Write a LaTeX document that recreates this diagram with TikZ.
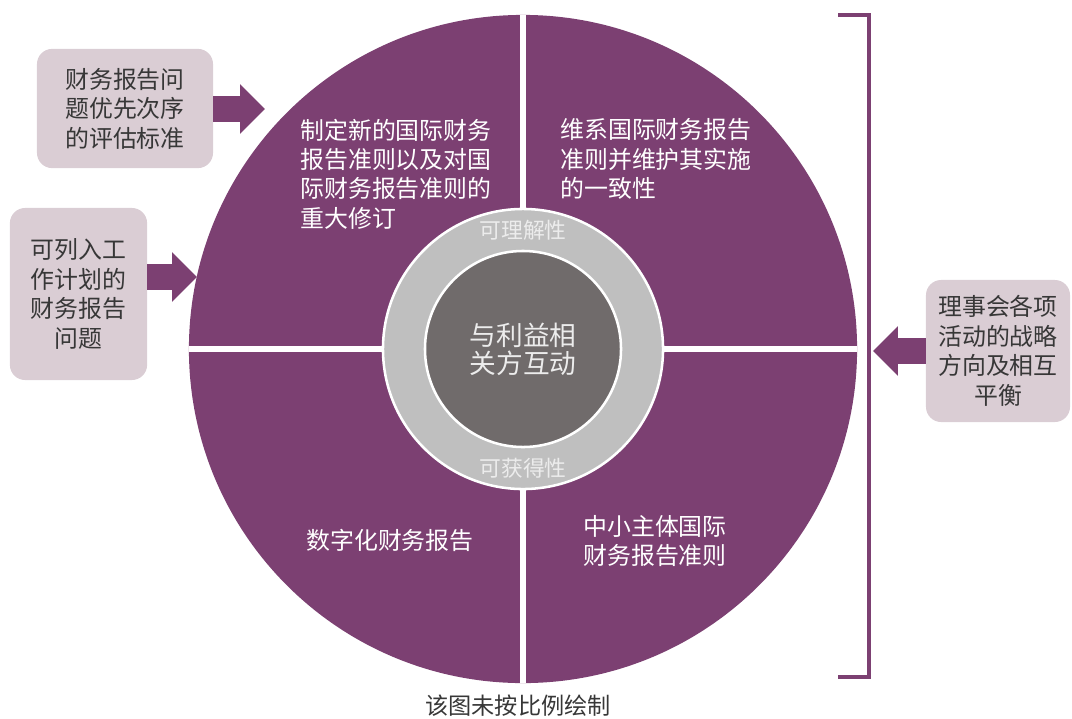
\documentclass[tikz,border=0pt]{standalone}
\usepackage{fontspec}
\setmainfont{Noto Sans CJK SC}
\usetikzlibrary{arrows.meta,positioning}

\definecolor{plum}{RGB}{124,64,114}
\definecolor{mauve}{RGB}{218,205,212}
\definecolor{ringgray}{RGB}{191,191,191}
\definecolor{coregray}{RGB}{112,107,107}
\definecolor{boxtext}{RGB}{55,55,55}
\definecolor{paletext}{RGB}{236,236,236}

\begin{document}
\begin{tikzpicture}[x=0.025cm, y=-0.025cm,
        every node/.style={inner sep=0pt},
        box/.style={fill=mauve, rounded corners=0.38cm, align=center,
            text=boxtext, font=\fontsize{17}{21}\selectfont},
        fat arrow/.style={draw=plum, line width=0.67cm,
            -{Triangle[length=0.62cm, width=1.2cm]}},
        quad text/.style={text=white, font=\fontsize{17}{20.8}\selectfont},
        ring label/.style={text=paletext, font=\fontsize{15.5}{18}\selectfont}]
    \useasboundingbox (0,0) rectangle (1072,718);

    % side boxes
    \node[box, minimum width=4.4cm, minimum height=2.98cm] (b1) at (125,108.5)
        {财务报告问\\题优先次序\\的评估标准};
    \node[box, minimum width=3.43cm, minimum height=4.3cm] (b2) at (78.5,294)
        {可列入工\\作计划的\\财务报告\\问题};
    \node[box, minimum width=3.6cm, minimum height=3.55cm] (b3) at (998,351)
        {理事会各项\\活动的战略\\方向及相互\\平衡};

    \coordinate (t1) at (265,109);
    \coordinate (t2) at (197,277);
    \coordinate (t3) at (873,351);
    \draw[fat arrow] (b1.east |- t1) -- (t1);
    \draw[fat arrow] (b2.east |- t2) -- (t2);
    \draw[fat arrow] (b3.west) -- (t3);

    % bracket on the right
    \draw[plum, line width=0.1cm] (838,15) -| (869,677) -- (838,677);

    % the wheel
    \node[circle, fill=plum, minimum size=16.7cm] (disc) at (523,349) {};
    \draw[white, line width=0.15cm] (disc.north) -- (disc.south);
    \draw[white, line width=0.15cm] (disc.west) -- (disc.east);
    \node[circle, fill=ringgray, draw=white, line width=1.8pt,
        minimum size=7cm] (ring) at (disc.center) {};
    \node[circle, fill=coregray, draw=white, line width=1.8pt,
        minimum size=4.9cm, align=center, text=paletext,
        font=\fontsize{19}{20}\selectfont] (core) at (disc.center)
        {与利益相\\关方互动};
    \node[ring label, below=0.3cm of ring.north] (r1) {可理解性};
    \node[ring label, above=0.3cm of ring.south] (r2) {可获得性};

    % quadrant texts
    \node[quad text, anchor=west, align=left] (q1) at (300,174)
        {制定新的国际财务\\报告准则以及对国\\际财务报告准则的\\重大修订};
    \node[quad text, anchor=west, align=left] (q2) at (560,159)
        {维系国际财务报告\\准则并维护其实施\\的一致性};
    \node[quad text] (q3) at (390,540) {数字化财务报告};
    \node[quad text, align=center] (q4) at (655,541)
        {中小主体国际\\财务报告准则};

    \node[text=boxtext, font=\fontsize{16.5}{20}\selectfont] (note) at (518,706)
        {该图未按比例绘制};
\end{tikzpicture}
\end{document}
